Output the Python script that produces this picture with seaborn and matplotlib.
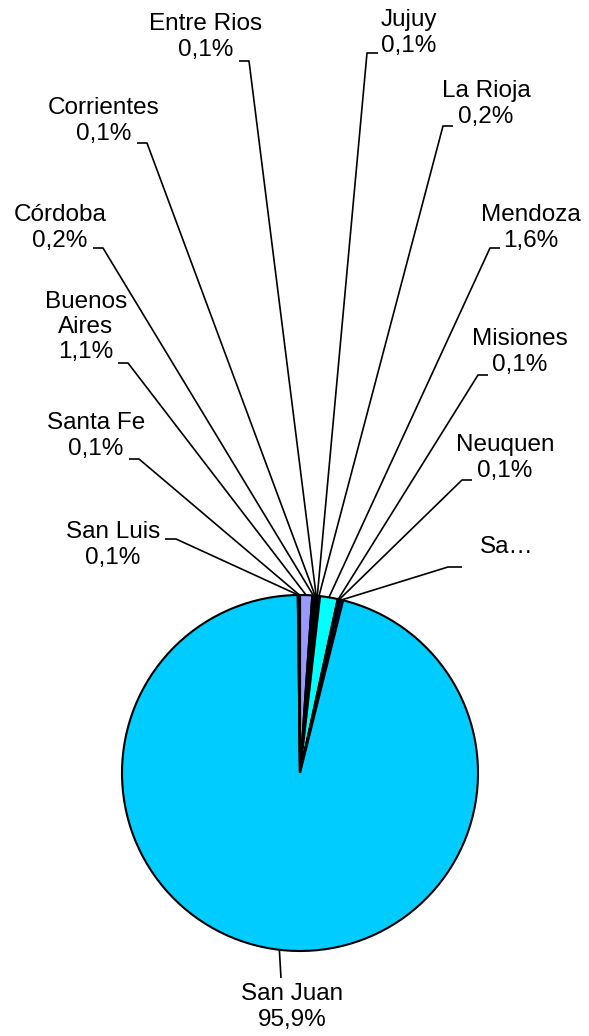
import numpy as np
import matplotlib
matplotlib.use("Agg")
import matplotlib.pyplot as plt
import seaborn as sns

# ---- data (clockwise from 12 o'clock) ----
provinces = ["Buenos Aires", "Córdoba", "Corrientes", "Entre Rios", "Jujuy",
             "La Rioja", "Mendoza", "Misiones", "Neuquen", "Salta",
             "San Juan", "San Luis", "Santa Fe"]
shares = [1.1, 0.2, 0.1, 0.1, 0.1, 0.2, 1.6, 0.1, 0.1, 0.3, 95.9, 0.1, 0.1]
label_names = ["Buenos\nAires", "Córdoba", "Corrientes", "Entre Rios", "Jujuy",
               "La Rioja", "Mendoza", "Misiones", "Neuquen", None,
               "San Juan", "San Luis", "Santa Fe"]
colors = ["#9999FF", "#993366", "#FFFFCC", "#CCFFFF", "#660066", "#FF8080",
          "#00FFFF", "#0066CC", "#CCCCFF", "#000080", "#00CCFF", "#FF00FF",
          "#FFFF00"]

# ---- layout (pixel positions of label blocks and leader elbows) ----
W, H = 589, 1036
center_px = (300, 773)
radius_px = 178
text_pos = [(86, 327), (60, 228), (104, 121), (206, 37), (409, 33),
            (486, 104), (531, 228), (520, 352), (505, 458), (507, 547),
            (292, 1007), (113, 545), (96, 436)]
# horizontal leader segment: (x_far, x_elbow, y)
leader_seg = [(118, 128, 363), (93, 103, 248), (137, 147, 143), (239, 249, 61),
              (378, 367, 53), (453, 443, 126), (500, 490, 248), (488, 478, 375),
              (472, 462, 480), (462, 448, 567), (281, 281, 978), (165, 176, 539),
              (129, 139, 459)]

sns.set_theme(style="white")
plt.rcParams["font.family"] = ["Liberation Sans", "DejaVu Sans"]

fig = plt.figure(figsize=(W / 100, H / 100), dpi=100)
ax = fig.add_axes([0, 0, 1, 1])

cx, cy = center_px[0], H - center_px[1]
ax.pie(shares, colors=colors, startangle=90, counterclock=False,
       center=(cx, cy), radius=radius_px,
       wedgeprops=dict(edgecolor="black", linewidth=1.5))
ax.set_xlim(0, W)
ax.set_ylim(0, H)
ax.set_aspect("equal")
ax.axis("off")

total = sum(shares)
cum = 0.0
for i, v in enumerate(shares):
    mid = (cum + v / 2) / total * 2 * np.pi
    cum += v
    px = cx + radius_px * np.sin(mid)
    py = cy + radius_px * np.cos(mid)
    xf, xe, yl = leader_seg[i]
    yl = H - yl
    ax.plot([xf, xe, px], [yl, yl, py], color="black", lw=1.2,
            solid_capstyle="butt", zorder=1)
    if label_names[i] is None:
        txt = "Sa…"
    else:
        txt = f"{label_names[i]}\n{v:.1f}%".replace(".", ",")
    tx, ty = text_pos[i]
    ax.text(tx, H - ty, txt, ha="center", va="center", fontsize=17.5,
            color="black", multialignment="center", linespacing=1.18)

fig.savefig("out.png", dpi=100, facecolor="white")
